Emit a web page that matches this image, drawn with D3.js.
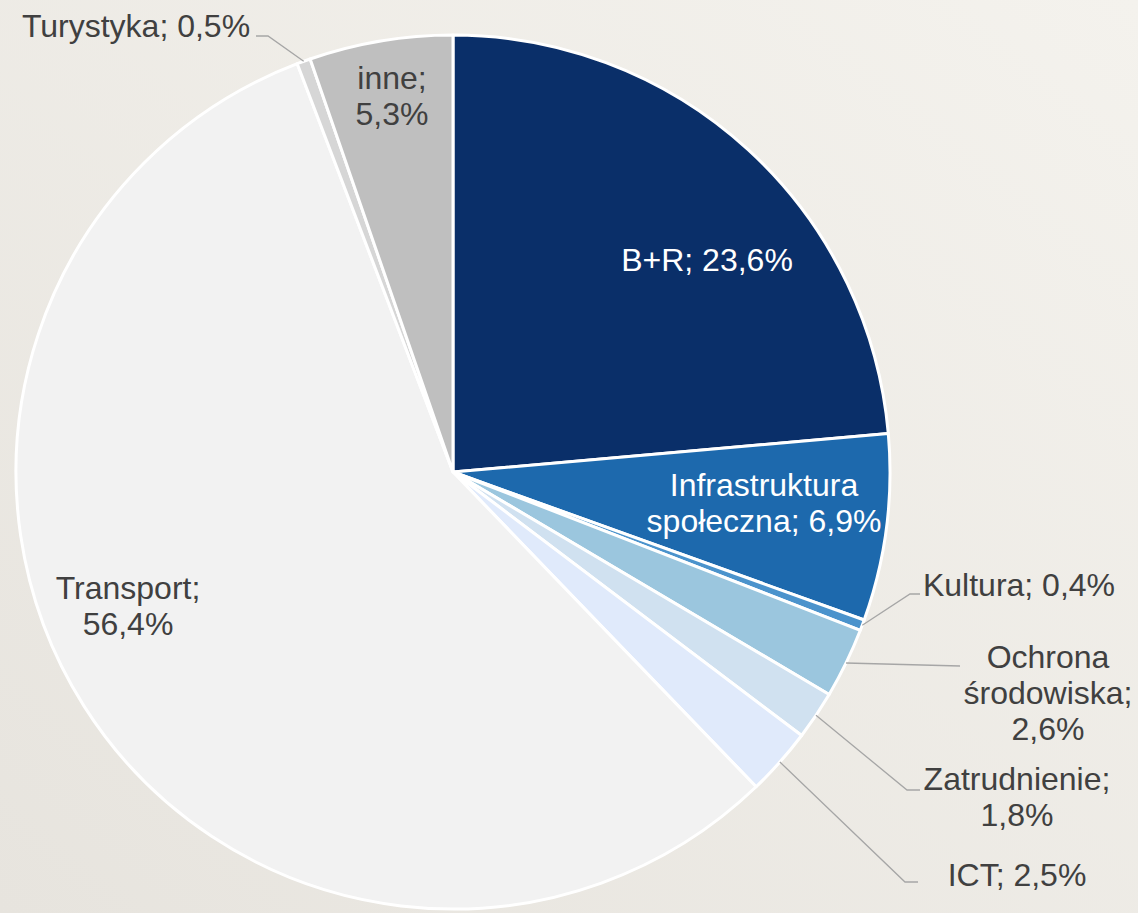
<!DOCTYPE html>
<html><head><meta charset="utf-8">
<script src="https://cdn.jsdelivr.net/npm/d3@7"></script>
<style>html,body{margin:0;padding:0;overflow:hidden;}svg{display:block;}</style>
</head><body>
<svg id="chart" width="1138" height="913"></svg>
<script>
const categories = ["B+R","Infrastruktura społeczna","Kultura","Ochrona środowiska","Zatrudnienie","ICT","Transport","Turystyka","inne"];
const values = [23.6, 6.9, 0.4, 2.6, 1.8, 2.5, 56.4, 0.5, 5.3];
const valueLabels = ["23,6%","6,9%","0,4%","2,6%","1,8%","2,5%","56,4%","0,5%","5,3%"];
const colors = ["#0a2f69","#1d69ad","#4b93cc","#9bc6de","#d0e1f0","#e0eafb","#f2f2f2","#d6d6d6","#bfbfbf"];
// label text lines
const labelLines = [
  ["B+R; 23,6%"],
  ["Infrastruktura","społeczna; 6,9%"],
  ["Kultura; 0,4%"],
  ["Ochrona","środowiska;","2,6%"],
  ["Zatrudnienie;","1,8%"],
  ["ICT; 2,5%"],
  ["Transport;","56,4%"],
  ["Turystyka; 0,5%"],
  ["inne;","5,3%"]
];
// layout: label centre (x,y of first line), inside?, leader elbow points
const layout = [
  {x:707,y:260,inside:true},
  {x:764,y:485,inside:true},
  {x:1019,y:585,inside:false,elbow:[[910,594],[920,594]]},
  {x:1048,y:657,inside:false,elbow:[[960,666]]},
  {x:1017,y:779,inside:false,elbow:[[907,790],[920,790]]},
  {x:1017,y:875,inside:false,elbow:[[905,882],[918,882]]},
  {x:128,y:588,inside:true},
  {x:136,y:26,inside:false,elbow:[[268,36],[256,36]],rev:true},
  {x:392,y:78,inside:true}
];
const W=1138,H=913,cx=453,cy=472,R=437,lineH=36;
const svg=d3.select("#chart");
const defs=svg.append("defs");
const g=defs.append("linearGradient").attr("id","bg").attr("x1","1").attr("y1","0").attr("x2","0").attr("y2","1");
g.append("stop").attr("offset","0").attr("stop-color","#f4f2ed");
g.append("stop").attr("offset","1").attr("stop-color","#e7e4de");
svg.append("rect").attr("width",W).attr("height",H).attr("fill","url(#bg)");

const pie=d3.pie().sort(null).value(d=>d)(values);
const arc=d3.arc().innerRadius(0).outerRadius(R);
const root=svg.append("g").attr("transform",`translate(${cx},${cy})`);
root.selectAll("path.slice").data(pie).join("path").attr("class","slice")
  .attr("d",arc).attr("fill",(d,i)=>colors[i]).attr("stroke","#ffffff").attr("stroke-width",3).attr("stroke-linejoin","round");

// leader lines
pie.forEach((d,i)=>{
  const L=layout[i]; if(L.inside) return;
  const a=(d.startAngle+d.endAngle)/2;
  const p=[cx+R*Math.sin(a), cy-R*Math.cos(a)];
  const pts=[p].concat(L.elbow);
  svg.append("path").attr("d",d3.line()(pts)).attr("fill","none").attr("stroke","#a6a6a6").attr("stroke-width",1.3);
});

// labels
labelLines.forEach((lines,i)=>{
  const L=layout[i];
  const col = (i<=1) ? "#ffffff" : "#404040";
  const t=svg.append("text").attr("text-anchor","middle")
    .attr("font-family","'Liberation Sans', Arial, sans-serif").attr("font-size",32).attr("fill",col);
  lines.forEach((s,k)=>{
    t.append("tspan").attr("x",L.x).attr("y",L.y+k*lineH).attr("dy","0.35em").text(s);
  });
});
</script>
</body></html>
